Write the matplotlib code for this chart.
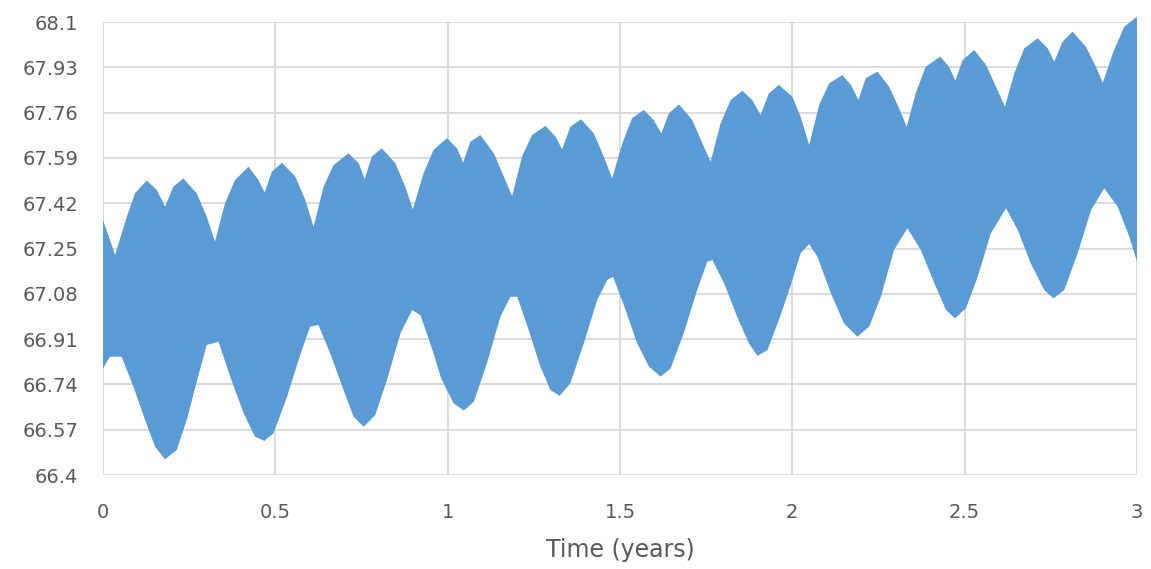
import numpy as np
import matplotlib.pyplot as plt

# upper edge of the oscillation band (time in years, value)
upper_t = [0.000, 0.035, 0.069, 0.093, 0.127, 0.156, 0.180, 0.204, 0.233, 0.272,
           0.301, 0.325, 0.354, 0.383, 0.422, 0.451, 0.469, 0.490, 0.519, 0.558,
           0.587, 0.611, 0.640, 0.669, 0.712, 0.742, 0.759, 0.780, 0.809, 0.848,
           0.877, 0.899, 0.930, 0.959, 0.998, 1.027, 1.045, 1.066, 1.095, 1.134,
           1.163, 1.187, 1.216, 1.245, 1.284, 1.313, 1.332, 1.356, 1.387, 1.424,
           1.453, 1.477, 1.507, 1.535, 1.569, 1.598, 1.620, 1.642, 1.671, 1.710,
           1.739, 1.763, 1.792, 1.821, 1.855, 1.884, 1.908, 1.932, 1.961, 2.000,
           2.024, 2.049, 2.078, 2.107, 2.145, 2.170, 2.192, 2.213, 2.247, 2.281,
           2.310, 2.332, 2.358, 2.387, 2.429, 2.455, 2.473, 2.494, 2.528, 2.562,
           2.591, 2.617, 2.644, 2.673, 2.712, 2.741, 2.760, 2.784, 2.813, 2.852,
           2.881, 2.901, 2.930, 2.963, 3.000]
upper_v = [67.357, 67.226, 67.369, 67.458, 67.505, 67.470, 67.407, 67.482, 67.513, 67.457,
           67.369, 67.276, 67.420, 67.507, 67.557, 67.507, 67.460, 67.538, 67.572, 67.520,
           67.432, 67.332, 67.482, 67.563, 67.607, 67.570, 67.510, 67.595, 67.626, 67.570,
           67.482, 67.397, 67.532, 67.620, 67.664, 67.626, 67.572, 67.651, 67.676, 67.607,
           67.520, 67.447, 67.595, 67.676, 67.710, 67.670, 67.622, 67.707, 67.735, 67.682,
           67.595, 67.513, 67.645, 67.739, 67.770, 67.732, 67.682, 67.757, 67.791, 67.732,
           67.645, 67.576, 67.720, 67.807, 67.842, 67.807, 67.751, 67.832, 67.864, 67.820,
           67.745, 67.638, 67.789, 67.870, 67.901, 67.864, 67.807, 67.889, 67.914, 67.857,
           67.776, 67.707, 67.832, 67.932, 67.970, 67.932, 67.880, 67.957, 67.995, 67.939,
           67.857, 67.782, 67.907, 68.001, 68.039, 68.001, 67.951, 68.026, 68.064, 68.007,
           67.932, 67.872, 67.983, 68.082, 68.120]

# lower edge of the oscillation band
lower_t = [0.000, 0.020, 0.054, 0.088, 0.122, 0.151, 0.180, 0.214, 0.243, 0.277,
           0.301, 0.335, 0.369, 0.408, 0.441, 0.468, 0.495, 0.534, 0.572, 0.601,
           0.625, 0.659, 0.698, 0.727, 0.756, 0.790, 0.824, 0.863, 0.897, 0.921,
           0.959, 0.981, 1.017, 1.047, 1.076, 1.114, 1.153, 1.182, 1.202, 1.235,
           1.269, 1.298, 1.325, 1.356, 1.395, 1.434, 1.463, 1.480, 1.511, 1.550,
           1.584, 1.618, 1.647, 1.685, 1.724, 1.753, 1.768, 1.802, 1.840, 1.874,
           1.899, 1.928, 1.966, 1.995, 2.024, 2.049, 2.073, 2.112, 2.150, 2.189,
           2.223, 2.257, 2.295, 2.334, 2.373, 2.412, 2.446, 2.472, 2.504, 2.538,
           2.576, 2.620, 2.654, 2.692, 2.731, 2.758, 2.789, 2.828, 2.867, 2.905,
           2.944, 2.978, 3.000]
lower_v = [66.800, 66.844, 66.844, 66.732, 66.607, 66.506, 66.459, 66.494, 66.607, 66.775,
           66.888, 66.900, 66.769, 66.632, 66.544, 66.528, 66.557, 66.694, 66.850, 66.957,
           66.963, 66.857, 66.719, 66.619, 66.581, 66.625, 66.757, 66.932, 67.019, 67.000,
           66.857, 66.763, 66.669, 66.642, 66.675, 66.819, 66.994, 67.069, 67.069, 66.944,
           66.807, 66.719, 66.697, 66.744, 66.894, 67.057, 67.132, 67.144, 67.038, 66.894,
           66.807, 66.769, 66.800, 66.932, 67.094, 67.200, 67.207, 67.120, 66.994, 66.894,
           66.847, 66.869, 67.000, 67.110, 67.232, 67.267, 67.219, 67.082, 66.969, 66.919,
           66.957, 67.069, 67.244, 67.326, 67.244, 67.120, 67.019, 66.988, 67.026, 67.144,
           67.307, 67.401, 67.320, 67.194, 67.094, 67.063, 67.094, 67.232, 67.395, 67.476,
           67.407, 67.294, 67.201]

x_ticks = [0, 0.5, 1, 1.5, 2, 2.5, 3]
x_labels = ["0", "0.5", "1", "1.5", "2", "2.5", "3"]
y_ticks = [66.4, 66.57, 66.74, 66.91, 67.08, 67.25, 67.42, 67.59, 67.76, 67.93, 68.1]
y_labels = ["66.4", "66.57", "66.74", "66.91", "67.08", "67.25",
            "67.42", "67.59", "67.76", "67.93", "68.1"]

plt.rcParams['font.family'] = ['DejaVu Sans']

fig = plt.figure(figsize=(11.51, 5.69), dpi=100)
ax = fig.add_axes([0.0895, 0.1652, 0.8983, 0.7961])

# band outline: upper edge left to right, then lower edge back
band_t = np.concatenate([upper_t, lower_t[::-1]])
band_v = np.concatenate([upper_v, lower_v[::-1]])
ax.fill(band_t, band_v, color='#5B9BD5', lw=0, zorder=3, clip_on=False)

ax.set_xlim(0, 3)
ax.set_ylim(66.4, 68.1)
ax.set_xticks(x_ticks)
ax.set_xticklabels(x_labels)
ax.set_yticks(y_ticks)
ax.set_yticklabels(y_labels)

for s in ax.spines.values():
    s.set_visible(False)
ax.grid(True, color='#D9D9D9', lw=1.3, zorder=0)
ax.set_axisbelow(True)
ax.tick_params(axis='both', length=0, labelsize=14, labelcolor='#595959')
ax.tick_params(axis='x', pad=20)
ax.tick_params(axis='y', pad=18)

ax.set_xlabel("Time (years)", fontsize=17, color='#595959', labelpad=12)

fig.savefig('out.png', dpi=100, facecolor='white')
